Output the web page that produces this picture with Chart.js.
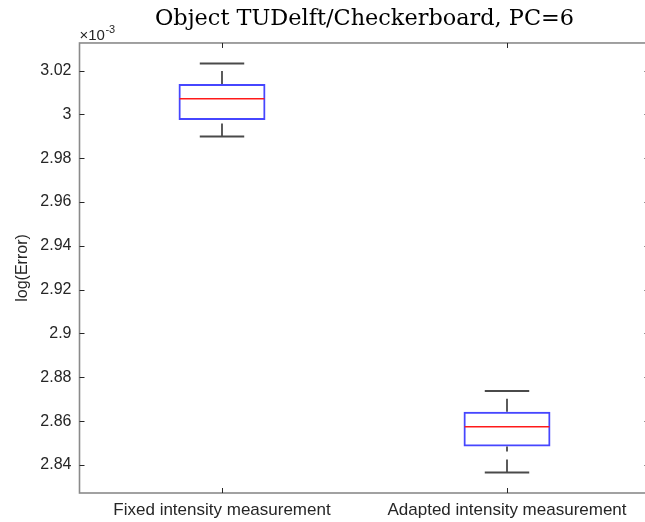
<!DOCTYPE html>
<html><head><meta charset="utf-8">
<script src="https://cdn.jsdelivr.net/npm/chart.js@4"></script>
<style>
html,body{margin:0;padding:0;background:#fff;overflow:hidden;}
#wrap{position:relative;width:660px;height:522px;}
</style></head><body>
<div id="wrap"><canvas id="c"></canvas></div>
<script>
// Data (values shown on the axis, in units of 10^-3)
const categories = ['Fixed intensity measurement', 'Adapted intensity measurement'];
const whiskerLow  = [2.9899, 2.8365];
const q1          = [2.9975, 2.8484];
const median      = [3.0071, 2.8574];
const q3          = [3.0139, 2.8643];
const whiskerHigh = [3.0232, 2.8738];
const yTicks = [2.84, 2.86, 2.88, 2.90, 2.92, 2.94, 2.96, 2.98, 3.00, 3.02];
const yMin = 2.8272, yMax = 3.0326;
const exponentText = '-3';
const titleText = 'Object TUDelft/Checkerboard, PC=6';
const yTitle = 'log(Error)';

const tickColor = '#262626';
const sansFont = 'Liberation Sans, Arial, Helvetica, sans-serif';

const boxPlugin = {
  id: 'boxExtras',
  afterDatasetsDraw(chart) {
    const {ctx, chartArea: a, scales: {x, y}} = chart;
    const step = x.getPixelForValue(1) - x.getPixelForValue(0);
    const capHalf = step * 0.078;
    ctx.save();
    for (let i = 0; i < categories.length; i++) {
      const cx = x.getPixelForValue(i);
      // whiskers (dashed, drawn from lower end upward)
      ctx.strokeStyle = '#333333';
      ctx.lineWidth = 1.6;
      ctx.setLineDash([13, 8]);
      ctx.beginPath();
      ctx.moveTo(cx, y.getPixelForValue(whiskerLow[i]));
      ctx.lineTo(cx, y.getPixelForValue(q1[i]));
      ctx.stroke();
      ctx.beginPath();
      ctx.moveTo(cx, y.getPixelForValue(q3[i]));
      ctx.lineTo(cx, y.getPixelForValue(whiskerHigh[i]));
      ctx.stroke();
      ctx.setLineDash([]);
      // caps
      ctx.strokeStyle = '#4a4a4a';
      ctx.lineWidth = 2;
      [whiskerLow[i], whiskerHigh[i]].forEach(v => {
        const py = y.getPixelForValue(v);
        ctx.beginPath();
        ctx.moveTo(cx - capHalf, py);
        ctx.lineTo(cx + capHalf, py);
        ctx.stroke();
      });
      // median
      const meta = chart.getDatasetMeta(0).data[i];
      const half = meta.width / 2;
      ctx.strokeStyle = '#ff1a1a';
      ctx.lineWidth = 1.5;
      const my = y.getPixelForValue(median[i]);
      ctx.beginPath();
      ctx.moveTo(cx - half + 1, my);
      ctx.lineTo(cx + half - 1, my);
      ctx.stroke();
    }
    // axes frame
    ctx.strokeStyle = '#8a8a8a';
    ctx.lineWidth = 1.6;
    ctx.strokeRect(a.left, a.top, a.right - a.left, a.bottom - a.top);
    // inward tick marks
    ctx.strokeStyle = tickColor;
    ctx.lineWidth = 1;
    const tl = 5;
    yTicks.forEach(v => {
      const py = Math.round(y.getPixelForValue(v)) + 0.5;
      ctx.beginPath();
      ctx.moveTo(a.left, py); ctx.lineTo(a.left + tl, py);
      ctx.moveTo(a.right, py); ctx.lineTo(a.right - tl, py);
      ctx.stroke();
    });
    categories.forEach((c, i) => {
      const px = Math.round(x.getPixelForValue(i)) + 0.5;
      ctx.beginPath();
      ctx.moveTo(px, a.bottom); ctx.lineTo(px, a.bottom - tl);
      ctx.moveTo(px, a.top); ctx.lineTo(px, a.top + tl);
      ctx.stroke();
    });
    // exponent label
    ctx.fillStyle = tickColor;
    ctx.textBaseline = 'alphabetic';
    ctx.textAlign = 'left';
    ctx.font = '15px ' + sansFont;
    const base = '\u00d710';
    ctx.fillText(base, a.left, 40);
    const w = ctx.measureText(base).width;
    ctx.font = '11px ' + sansFont;
    ctx.fillText(exponentText, a.left + w + 0.5, 33);
    ctx.restore();
  }
};

new Chart(document.getElementById('c'), {
  type: 'bar',
  data: {
    labels: categories,
    datasets: [{
      data: q1.map((v, i) => [v, q3[i]]),
      backgroundColor: 'rgba(0,0,0,0)',
      borderColor: '#4646ff',
      borderWidth: 2,
      borderSkipped: false,
      barPercentage: 0.305,
      categoryPercentage: 1
    }]
  },
  options: {
    responsive: true,
    maintainAspectRatio: false,
    animation: false,
    devicePixelRatio: 1,
    layout: {padding: {left: 0, right: 10.5, top: 0, bottom: 0}},
    plugins: {
      legend: {display: false},
      tooltip: {enabled: false},
      title: {
        display: true,
        text: titleText,
        fullSize: false,
        color: '#000',
        font: {family: 'DejaVu Serif', size: 22.4, weight: 'normal'},
        padding: {top: 6, bottom: 10.1}
      }
    },
    scales: {
      x: {
        type: 'category',
        offset: true,
        grid: {display: false, drawTicks: false},
        border: {display: false},
        ticks: {color: tickColor, font: {family: sansFont, size: 17}, padding: 7, maxRotation: 0, autoSkip: false},
        afterFit(s) { s.height = 29; }
      },
      y: {
        min: yMin, max: yMax,
        grid: {display: false, drawTicks: false},
        border: {display: false},
        afterBuildTicks(s) { s.ticks = yTicks.map(v => ({value: v})); },
        ticks: {color: tickColor, font: {family: sansFont, size: 16}, padding: 8,
                callback: v => String(+Number(v).toFixed(2))},
        title: {display: true, text: yTitle, color: tickColor,
                font: {family: sansFont, size: 16}, padding: {top: 13, bottom: 0}},
        afterFit(s) { s.width = 79.5; }
      }
    }
  },
  plugins: [boxPlugin]
});
</script>
</body></html>
